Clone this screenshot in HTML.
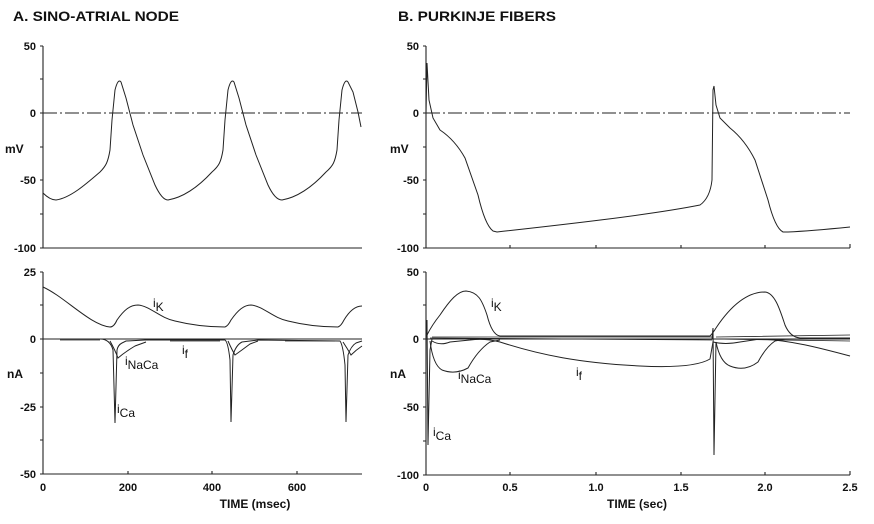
<!DOCTYPE html>
<html><head><style>
html,body{margin:0;padding:0;background:#fff}
svg{display:block}
text{font-family:"Liberation Sans",Arial,sans-serif;fill:#111}
</style></head><body>
<svg width="874" height="524" viewBox="0 0 874 524" xmlns="http://www.w3.org/2000/svg">
<g font-size="14" font-weight="bold">
<text x="13" y="21" textLength="166" lengthAdjust="spacingAndGlyphs">A. SINO-ATRIAL NODE</text>
<text x="398" y="21" textLength="158" lengthAdjust="spacingAndGlyphs">B. PURKINJE FIBERS</text>
</g>
<g stroke="#222" stroke-width="1.1" fill="none">
<path d="M43,46V248H362M43,272V474H362"/>
<path d="M40,46h3M40,79h3M40,113h3M40,147h3M40,180h3M40,214h3M40,248h3"/>
<path d="M40,272h3M40,305h3M40,339h3M40,373h3M40,407h3M40,440h3M40,474h3"/>
<path d="M128,474v-3M212,474v-3M297,474v-3"/>
<path d="M43,113H362" stroke-dasharray="14,3,2,3"/>
<path d="M43,339H362"/>
<path d="M426,46V248H850M426,272V475H850"/>
<path d="M423,46h3M423,79h3M423,113h3M423,147h3M423,180h3M423,214h3M423,248h3"/>
<path d="M423,272h3M423,305h3M423,339h3M423,373h3M423,407h3M423,441h3M423,475h3"/>
<path d="M510,248v-3M596,248v-3M681,248v-3M765,248v-3M850,248v-4"/>
<path d="M510,475v-3M596,475v-3M681,475v-3M765,475v-3M850,475v-4"/>
<path d="M426,113H850" stroke-dasharray="14,3,2,3"/>
<path d="M426,339H850"/>
</g>
<g font-size="11" font-weight="bold" text-anchor="end">
<text x="36" y="50">50</text><text x="36" y="117">0</text><text x="36" y="184">-50</text><text x="36" y="252">-100</text>
<text x="36" y="276">25</text><text x="36" y="343">0</text><text x="36" y="411">-25</text><text x="36" y="478">-50</text>
<text x="419" y="50">50</text><text x="419" y="117">0</text><text x="419" y="184">-50</text><text x="419" y="252">-100</text>
<text x="419" y="276">50</text><text x="419" y="343">0</text><text x="419" y="411">-50</text><text x="419" y="479">-100</text>
</g>
<g font-size="11" font-weight="bold" text-anchor="middle">
<text x="43" y="491">0</text><text x="128" y="491">200</text><text x="212" y="491">400</text><text x="297" y="491">600</text>
<text x="426" y="491">0</text><text x="510" y="491">0.5</text><text x="596" y="491">1.0</text><text x="681" y="491">1.5</text><text x="765" y="491">2.0</text><text x="850" y="491">2.5</text>
<text x="255" y="508" font-size="12">TIME (msec)</text>
<text x="637" y="508" font-size="12">TIME (sec)</text>
</g>
<g font-size="12" font-weight="bold">
<text x="5" y="153">mV</text><text x="7" y="378">nA</text>
<text x="390" y="153">mV</text><text x="390" y="378">nA</text>
</g>
<g font-size="12">
<text x="153" y="307">i<tspan dy="4">K</tspan></text>
<text x="125" y="365">i<tspan dy="4">NaCa</tspan></text>
<text x="182" y="354">i<tspan dy="4">f</tspan></text>
<text x="117" y="413">i<tspan dy="4">Ca</tspan></text>
<text x="491" y="307">i<tspan dy="4">K</tspan></text>
<text x="458" y="379">i<tspan dy="4">NaCa</tspan></text>
<text x="576" y="376">i<tspan dy="4">f</tspan></text>
<text x="433" y="436">i<tspan dy="4">Ca</tspan></text>
</g>
<g stroke="#222" stroke-width="1" fill="none">
<path d="M43,193 C48,198 52,200 56,200 C70,198 85,185 100,172 C106,166 108,162 110,150 L112,120 L115,90 Q118,78 121,82 L126,98 L133,125 L143,155 L155,185 Q162,200 168,200 C185,197 200,185 212,172 C219,166 221,162 223,150 L225,120 L228,90 Q231,78 234,82 L239,98 L246,125 L256,155 L268,185 Q275,200 282,200 C299,197 314,185 326,172 C333,166 335,162 337,150 L339,120 L342,90 Q345,78 348,82 L353,92 L358,112 L361,127"/>
<path d="M43,287 C65,297 90,325 110,327 Q114,327 117,320 C124,310 130,305 138,305 C150,306 160,318 175,321 C195,326 215,327 225,327 Q228,326 231,320 C238,310 244,305 251,305 C263,306 273,318 288,321 C308,326 328,327 338,327 Q341,326 344,320 C350,310 356,306 362,306"/>
<path d="M43,339 H100 Q110,339 113,350 L115,423 L117,350 Q118,345 122,343 L126,341 L145,340 L225,340 Q228,342 230,360 L231,422 L233,355 Q236,345 242,342 L258,340 L340,341 Q343,345 345,365 L346,422 L348,355 Q351,346 356,343 L362,341"/>
<path d="M110,341 Q115,350 118,358 Q125,352 135,346 L146,342 M228,341 Q232,350 235,355 Q242,350 250,344 L258,341 M343,342 Q347,348 351,355 Q356,350 362,346"/>
<path d="M60,340 L100,340 M170,341 L220,341 M285,341 L335,341" stroke-width="0.8"/>
<path d="M426,208 L426,113 L427,63 L429,100 L433,118 L440,130 Q455,140 465,158 L478,195 Q485,225 493,231 L497,232 C560,225 650,215 700,205 Q710,198 712,180 L713,90 L714,86 L716,105 L720,118 L730,128 Q745,140 755,160 L768,200 Q775,228 783,232 L788,232 C810,231 830,229 850,227"/>
<path d="M427,335 Q432,325 440,315 C450,300 458,291 466,291 C478,292 482,300 487,315 Q492,335 500,336 C600,336 680,336 710,336 Q713,333 716,328 C728,310 745,292 765,292 C775,293 780,310 785,325 Q790,337 800,338 L850,338"/>
<path d="M426,339 L427,320 L428,445 L430,350 L432,339 M712,339 L713,328 L714,455 L716,342"/>
<path d="M430,341 Q433,365 442,370 Q455,375 468,368 Q478,350 490,342 L500,340 M716,342 Q720,362 730,366 Q745,372 758,362 Q766,347 775,341 L785,339"/>
<path d="M432,341 Q440,346 450,342 L470,340 Q485,338 500,342 C540,355 580,363 640,366 C680,368 700,365 710,359 L713,342 Q725,345 740,342 L760,339 C790,340 820,348 850,356"/>
<path d="M430,338 L712,340 M716,339 L850,341 M432,337 L712,337 M716,337 L850,335" stroke-width="0.8"/>
</g>
</svg>
</body></html>
